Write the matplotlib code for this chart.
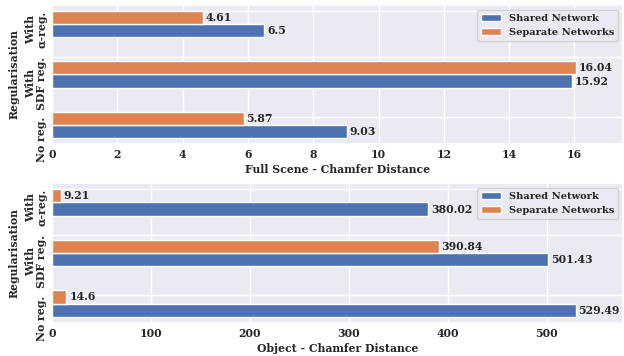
import numpy as np
import matplotlib
matplotlib.use("Agg")
import matplotlib.pyplot as plt
import seaborn as sns

# regularisation settings, bottom to top
categories = ["No reg.", "With\nSDF reg.", "With\n\u03b1-reg."]
series = ["Shared Network", "Separate Networks"]

scene_shared = [9.03, 15.92, 6.5]
scene_separate = [5.87, 16.04, 4.61]
object_shared = [529.49, 501.43, 380.02]
object_separate = [14.6, 390.84, 9.21]

sns.set_theme(style="darkgrid", palette="deep")
plt.rcParams["font.family"] = ["DejaVu Serif"]
plt.rcParams["font.weight"] = "bold"
plt.rcParams["axes.labelweight"] = "bold"

colors = sns.color_palette("deep")
fs = 7.8
h = 0.26
ind = np.arange(len(categories))
tick_pos = [0.16, 1.35, 2.27]


def draw(ax, shared, separate, xlabel, xticks):
    b1 = ax.barh(ind - h / 2, shared, h, color=colors[0], label=series[0])
    b2 = ax.barh(ind + h / 2, separate, h, color=colors[1], label=series[1])
    ax.bar_label(b1, padding=2, fontsize=fs, fontweight="bold")
    ax.bar_label(b2, padding=2, fontsize=fs, fontweight="bold")
    ax.set_ylim(-0.386, 2.386)
    ax.set_xlim(0, max(max(shared), max(separate)) * 1.09)
    ax.set_yticks(tick_pos)
    ax.set_yticklabels(categories, rotation=90, va="top", multialignment="center",
                       linespacing=0.95, fontsize=fs, fontweight="bold")
    ax.set_xticks(xticks)
    ax.set_xticklabels([str(t) for t in xticks], fontsize=fs, fontweight="bold")
    ax.tick_params(axis="both", length=0, pad=3.5)
    ax.set_xlabel(xlabel, fontsize=fs, fontweight="bold", labelpad=3)
    ax.set_ylabel("Regularisation", fontsize=fs, fontweight="bold", labelpad=4)
    ax.legend(loc="upper right", prop={"weight": "bold", "size": 7.1})


fig = plt.figure(figsize=(6.24, 3.56), dpi=100)
ax1 = fig.add_axes([0.0833, 0.5955, 0.915, 0.3905])
ax2 = fig.add_axes([0.0833, 0.0927, 0.915, 0.3933])

draw(ax1, scene_shared, scene_separate, "Full Scene - Chamfer Distance",
     list(range(0, 17, 2)))
draw(ax2, object_shared, object_separate, "Object - Chamfer Distance",
     list(range(0, 501, 100)))

fig.savefig("out.png", dpi=100)
